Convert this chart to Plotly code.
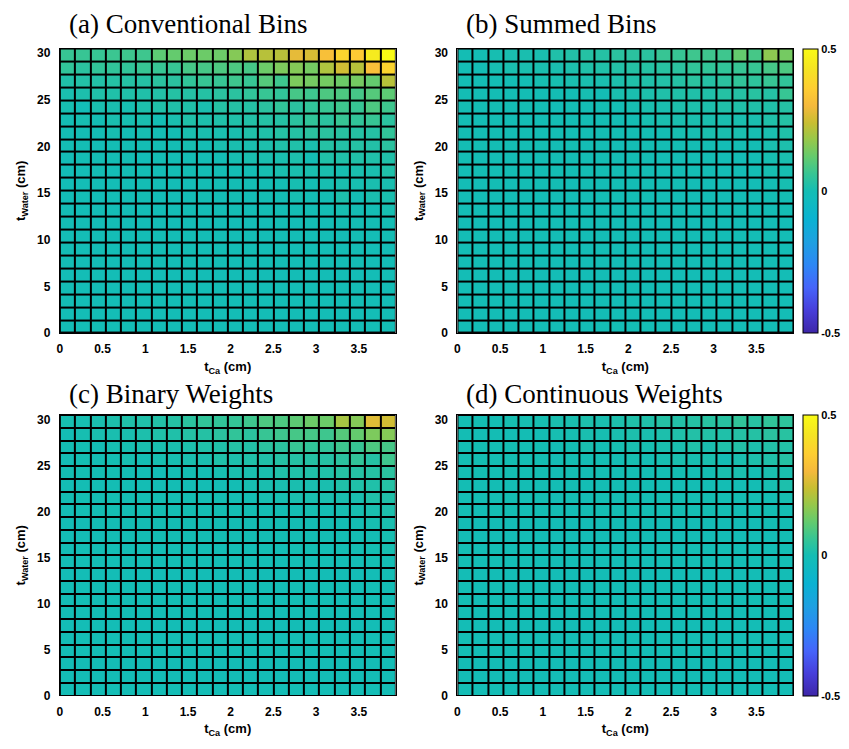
import plotly.graph_objects as go

# ---------------- data ----------------
# bin edges
t_ca_edges = [0.0, 0.1786, 0.3573, 0.5359, 0.7145, 0.8932, 1.0718, 1.2505, 1.4291, 1.6077,
              1.7864, 1.965, 2.1436, 2.3223, 2.5009, 2.6795, 2.8582, 3.0368, 3.2155, 3.3941,
              3.5727, 3.7514, 3.93]
t_water_edges = [0.0, 1.386, 2.773, 4.159, 5.545, 6.932, 8.318, 9.705, 11.091, 12.477,
                 13.864, 15.25, 16.636, 18.023, 19.409, 20.795, 22.182, 23.568, 24.955,
                 26.341, 27.727, 29.114, 30.5]

x_ticks = [0, 0.5, 1, 1.5, 2, 2.5, 3, 3.5]
x_tick_labels = ["0", "0.5", "1", "1.5", "2", "2.5", "3", "3.5"]
y_ticks = [0, 5, 10, 15, 20, 25, 30]
y_tick_labels = ["0", "5", "10", "15", "20", "25", "30"]
cbar_ticks = [-0.5, 0, 0.5]
cbar_labels = ["-0.5", "0", "0.5"]

titles = ["(a) Conventional Bins", "(b) Summed Bins", "(c) Binary Weights", "(d) Continuous Weights"]

# rows listed from top (t_water highest) to bottom
conventional_bins = [
    [0.06, 0.06, 0.06, 0.065, 0.07, 0.07, 0.11, 0.12, 0.13, 0.13, 0.13, 0.16, 0.21, 0.22, 0.22, 0.28, 0.26, 0.32, 0.38, 0.35, 0.45, 0.50],
    [0.05, 0.04, 0.05, 0.05, 0.05, 0.06, 0.06, 0.06, 0.08, 0.08, 0.09, 0.09, 0.08, 0.13, 0.15, 0.16, 0.14, 0.21, 0.25, 0.22, 0.32, 0.38],
    [0.02, 0.025, 0.025, 0.03, 0.03, 0.03, 0.04, 0.04, 0.05, 0.06, 0.06, 0.07, 0.06, 0.10, 0.07, 0.15, 0.14, 0.14, 0.13, 0.14, 0.12, 0.22],
    [0.01, 0.015, 0.02, 0.02, 0.02, 0.02, 0.025, 0.03, 0.03, 0.03, 0.04, 0.04, 0.05, 0.06, 0.05, 0.08, 0.07, 0.09, 0.09, 0.08, 0.10, 0.11],
    [0.005, -0.01, 0.01, 0.01, 0.005, 0.015, 0.02, 0.02, 0.02, 0.01, 0.03, 0.03, 0.03, 0.04, 0.05, 0.04, 0.05, 0.06, 0.07, 0.06, 0.09, 0.07],
    [0.0, 0.005, 0.0, 0.01, 0.005, 0.01, 0.0, 0.01, 0.02, 0.015, 0.02, 0.02, 0.025, 0.03, 0.03, 0.04, 0.05, 0.04, 0.06, 0.05, 0.06, 0.04],
    [0.0, 0.0, 0.0, 0.005, 0.0, 0.005, 0.0, 0.0, 0.01, 0.01, 0.01, 0.01, 0.02, 0.02, 0.03, 0.03, 0.04, 0.04, 0.035, 0.03, 0.03, 0.05],
    [0.0, 0.0, -0.005, 0.0, 0.0, 0.0, 0.0, 0.0, 0.005, 0.0, 0.01, 0.01, 0.01, 0.015, 0.02, 0.02, 0.01, 0.03, 0.025, 0.03, 0.025, 0.04],
    [-0.005, 0.0, 0.0, 0.0, 0.0, -0.01, 0.0, 0.0, 0.0, 0.0, 0.0, 0.005, 0.01, 0.01, 0.01, 0.015, 0.0, 0.02, 0.02, 0.02, 0.02, 0.02],
    [-0.01, -0.005, 0.0, -0.005, 0.0, 0.0, -0.005, 0.0, 0.0, 0.0, 0.0, 0.0, 0.0, 0.005, 0.01, 0.01, 0.01, 0.01, 0.005, 0.01, 0.01, 0.02],
    [-0.01, -0.005, -0.005, -0.005, -0.005, 0.0, -0.005, -0.005, -0.005, 0.0, 0.0, 0.0, 0.0, 0.0, 0.0, 0.005, 0.0, 0.005, 0.01, 0.005, 0.01, 0.01],
    [-0.01, -0.005, -0.01, -0.005, -0.005, 0.0, -0.01, -0.005, -0.005, 0.0, -0.005, 0.0, -0.005, 0.0, 0.0, 0.005, 0.0, 0.0, 0.015, 0.0, 0.01, 0.01],
    [-0.005, -0.01, -0.005, -0.005, -0.005, -0.005, -0.01, -0.005, -0.005, -0.005, -0.005, 0.0, -0.005, 0.0, 0.0, 0.0, 0.0, 0.0, 0.005, 0.0, 0.0, 0.005],
    [-0.005, -0.005, -0.005, -0.005, -0.005, -0.005, -0.005, -0.005, -0.005, -0.005, -0.005, -0.005, -0.005, -0.005, 0.0, -0.005, 0.0, -0.005, 0.0, 0.0, 0.0, 0.0],
    [-0.005, -0.005, -0.005, -0.005, -0.005, -0.005, -0.005, -0.005, -0.005, -0.005, -0.005, -0.005, -0.005, -0.005, -0.005, -0.005, -0.005, -0.005, -0.005, 0.0, -0.005, 0.0],
    [-0.005, -0.005, -0.005, -0.005, -0.005, -0.005, -0.005, -0.005, -0.005, -0.005, -0.005, -0.005, -0.005, -0.005, -0.005, -0.005, -0.005, -0.005, -0.005, -0.005, -0.005, -0.005],
    [-0.005, -0.005, -0.005, -0.005, -0.005, -0.005, -0.005, -0.005, -0.005, -0.005, -0.005, -0.005, -0.005, -0.005, -0.005, -0.005, -0.005, -0.005, -0.005, -0.005, -0.005, -0.005],
    [-0.005, -0.005, -0.005, -0.005, -0.005, -0.005, -0.005, -0.005, -0.005, -0.005, -0.005, -0.005, -0.005, -0.005, -0.005, -0.005, -0.005, -0.005, -0.005, -0.005, -0.005, -0.005],
    [-0.005, -0.005, -0.005, -0.005, -0.005, -0.005, -0.005, -0.005, -0.005, -0.005, -0.005, -0.005, -0.005, -0.005, -0.005, -0.005, -0.005, -0.005, -0.005, -0.005, -0.005, -0.005],
    [-0.005, -0.005, -0.005, -0.005, -0.005, -0.005, -0.005, -0.005, -0.005, -0.005, -0.005, -0.005, -0.005, -0.005, -0.005, -0.005, -0.005, -0.005, -0.005, -0.005, -0.005, -0.005],
    [-0.005, -0.005, -0.005, -0.005, -0.005, -0.005, -0.005, -0.005, -0.005, -0.005, -0.005, -0.005, -0.005, -0.005, -0.005, -0.005, -0.005, -0.005, -0.005, -0.005, -0.005, -0.005],
    [-0.005, -0.005, -0.005, -0.005, -0.005, -0.005, -0.005, -0.005, -0.005, -0.005, -0.005, -0.005, -0.005, -0.005, -0.005, -0.005, -0.005, -0.005, -0.005, -0.005, -0.005, -0.005],
]

summed_bins = [
    [0.0, 0.0, 0.005, 0.01, 0.01, 0.01, 0.02, 0.025, 0.03, 0.03, 0.04, 0.04, 0.04, 0.06, 0.06, 0.07, 0.07, 0.07, 0.12, 0.08, 0.17, 0.14],
    [0.0, 0.0, 0.005, 0.01, 0.01, 0.01, 0.01, 0.015, 0.02, 0.02, 0.025, 0.03, 0.03, 0.035, 0.04, 0.05, 0.05, 0.05, 0.06, 0.06, 0.08, 0.09],
    [0.0, 0.0, 0.0, 0.0, 0.0, 0.005, 0.005, 0.01, 0.01, 0.01, 0.015, 0.02, 0.02, 0.025, 0.03, 0.04, 0.03, 0.04, 0.05, 0.045, 0.06, 0.05],
    [0.0, 0.0, 0.0, 0.0, 0.0, 0.0, 0.0, 0.0, 0.005, 0.0, 0.01, 0.01, 0.015, 0.02, 0.02, 0.02, 0.02, 0.03, 0.03, 0.035, 0.03, 0.06],
    [0.0, 0.0, 0.0, 0.0, 0.0, 0.0, -0.01, 0.0, 0.0, 0.0, 0.0, 0.005, 0.01, 0.01, 0.015, 0.015, 0.015, 0.02, 0.02, 0.02, 0.02, 0.03],
    [0.0, 0.0, 0.0, 0.0, 0.0, 0.0, 0.0, 0.0, 0.0, 0.0, 0.0, 0.0, 0.005, 0.01, 0.01, 0.01, 0.01, 0.01, 0.01, 0.01, 0.02, 0.03],
    [0.0, 0.0, 0.0, 0.0, 0.0, 0.0, 0.0, 0.0, 0.0, 0.0, 0.0, 0.0, 0.0, 0.0, 0.005, 0.005, 0.01, 0.01, 0.01, 0.005, 0.01, 0.02],
    [0.0, 0.0, 0.0, 0.0, 0.0, 0.0, 0.0, 0.0, 0.0, 0.0, -0.005, 0.0, 0.0, 0.0, 0.0, 0.0, 0.0, -0.005, 0.0, 0.0, 0.01, 0.015],
    [0.0, 0.0, 0.0, 0.0, 0.0, 0.0, 0.0, 0.0, 0.0, 0.0, 0.0, 0.0, 0.0, 0.0, 0.0, 0.0, 0.0, -0.005, -0.005, 0.0, 0.005, 0.01],
    [-0.005, 0.0, 0.0, 0.0, 0.0, 0.0, 0.0, 0.0, 0.0, 0.0, 0.0, 0.0, 0.0, 0.0, 0.0, 0.0, -0.005, -0.005, -0.005, 0.0, 0.005, 0.005],
    [-0.005, -0.005, 0.0, -0.005, 0.0, 0.0, 0.0, -0.005, 0.0, -0.005, 0.0, 0.0, 0.0, 0.0, 0.0, -0.005, -0.005, -0.005, -0.005, -0.005, 0.0, 0.005],
    [-0.005, -0.005, -0.005, -0.005, -0.005, -0.005, -0.005, -0.005, -0.005, -0.005, -0.005, -0.005, -0.005, -0.005, -0.005, -0.005, -0.005, -0.005, -0.005, -0.005, 0.0, 0.0],
    [-0.005, -0.005, -0.005, -0.005, -0.005, -0.005, -0.005, -0.005, -0.005, -0.005, -0.005, -0.005, -0.005, -0.005, -0.005, -0.005, -0.005, -0.005, -0.005, -0.005, -0.005, 0.0],
    [-0.005, -0.005, -0.005, -0.005, -0.005, -0.005, -0.005, -0.005, -0.005, -0.005, -0.005, -0.005, -0.005, -0.005, -0.005, -0.005, -0.005, -0.005, -0.005, -0.005, -0.005, -0.005],
    [-0.005, -0.005, -0.005, -0.005, -0.005, -0.005, -0.005, -0.005, -0.005, -0.005, -0.005, -0.005, -0.005, -0.005, -0.005, -0.005, -0.005, -0.005, -0.005, -0.005, -0.005, -0.005],
    [-0.005, -0.005, -0.005, -0.005, -0.005, -0.005, -0.005, -0.005, -0.005, -0.005, -0.005, -0.005, -0.005, -0.005, -0.005, -0.005, -0.005, -0.005, -0.005, -0.005, -0.005, -0.005],
    [-0.005, -0.005, -0.005, -0.005, -0.005, -0.005, -0.005, -0.005, -0.005, -0.005, -0.005, -0.005, -0.005, -0.005, -0.005, -0.005, -0.005, -0.005, -0.005, -0.005, -0.005, -0.005],
    [-0.005, -0.005, -0.005, -0.005, -0.005, -0.005, -0.005, -0.005, -0.005, -0.005, -0.005, -0.005, -0.005, -0.005, -0.005, -0.005, -0.005, -0.005, -0.005, -0.005, -0.005, -0.005],
    [-0.005, -0.005, -0.005, -0.005, -0.005, -0.005, -0.005, -0.005, -0.005, -0.005, -0.005, -0.005, -0.005, -0.005, -0.005, -0.005, -0.005, -0.005, -0.005, -0.005, -0.005, -0.005],
    [-0.005, -0.005, -0.005, -0.005, -0.005, -0.005, -0.005, -0.005, -0.005, -0.005, -0.005, -0.005, -0.005, -0.005, -0.005, -0.005, -0.005, -0.005, -0.005, -0.005, -0.005, -0.005],
    [-0.005, -0.005, -0.005, -0.005, -0.005, -0.005, -0.005, -0.005, -0.005, -0.005, -0.005, -0.005, -0.005, -0.005, -0.005, -0.005, -0.005, -0.005, -0.005, -0.005, -0.005, -0.005],
    [-0.005, -0.005, -0.005, -0.005, -0.005, -0.005, -0.005, -0.005, -0.005, -0.005, -0.005, -0.005, -0.005, -0.005, -0.005, -0.005, -0.005, -0.005, -0.005, -0.005, -0.005, -0.005],
]

binary_weights = [
    [0.005, 0.005, 0.01, 0.015, 0.02, 0.02, 0.025, 0.03, 0.04, 0.05, 0.05, 0.055, 0.07, 0.09, 0.09, 0.11, 0.13, 0.13, 0.20, 0.16, 0.27, 0.25],
    [0.0, 0.005, 0.01, 0.01, 0.01, 0.015, 0.02, 0.02, 0.03, 0.03, 0.04, 0.05, 0.04, 0.06, 0.07, 0.08, 0.08, 0.07, 0.10, 0.12, 0.15, 0.16],
    [0.0, 0.0, 0.0, 0.005, 0.005, 0.01, 0.01, 0.01, 0.015, 0.02, 0.02, 0.03, 0.025, 0.04, 0.04, 0.06, 0.05, 0.05, 0.07, 0.06, 0.09, 0.08],
    [-0.005, 0.0, 0.0, 0.0, 0.005, 0.0, 0.005, 0.005, 0.01, 0.01, 0.02, 0.015, 0.02, 0.02, 0.03, 0.03, 0.03, 0.03, 0.04, 0.05, 0.03, 0.07],
    [0.0, 0.0, 0.0, 0.0, 0.0, -0.005, -0.01, 0.0, 0.0, 0.0, 0.005, 0.01, 0.01, 0.01, 0.02, 0.02, 0.02, 0.02, 0.03, 0.03, 0.03, 0.04],
    [0.0, 0.0, 0.0, 0.0, 0.0, 0.0, 0.0, 0.0, 0.0, 0.0, 0.0, 0.0, 0.005, 0.01, 0.01, 0.01, 0.01, 0.01, 0.02, 0.02, 0.02, 0.03],
    [0.0, 0.0, 0.0, 0.0, 0.0, 0.0, 0.0, 0.0, 0.0, 0.0, 0.0, 0.0, 0.0, 0.005, 0.005, 0.01, 0.01, 0.01, 0.01, 0.01, 0.02, 0.02],
    [-0.005, 0.0, 0.0, 0.0, 0.0, 0.0, 0.0, 0.0, 0.0, 0.0, 0.0, 0.0, 0.0, 0.0, 0.0, 0.0, 0.005, 0.0, 0.005, 0.005, 0.01, 0.015],
    [-0.005, -0.005, 0.0, 0.0, 0.0, 0.0, 0.0, 0.0, 0.0, 0.0, 0.0, 0.0, 0.0, 0.0, 0.0, 0.0, 0.0, 0.0, 0.0, 0.0, 0.005, 0.01],
    [-0.005, -0.005, -0.005, 0.0, 0.0, 0.0, 0.0, 0.0, 0.0, 0.0, 0.0, 0.0, 0.0, 0.0, 0.0, 0.0, 0.0, 0.0, 0.0, 0.0, 0.0, 0.005],
    [-0.005, -0.005, -0.005, -0.005, -0.005, -0.005, -0.005, -0.005, -0.005, -0.005, -0.005, -0.005, -0.005, 0.0, -0.005, 0.0, 0.0, -0.005, 0.0, 0.0, 0.0, 0.005],
    [-0.005, -0.005, -0.005, -0.005, -0.005, -0.005, -0.005, -0.005, -0.005, -0.005, -0.005, -0.005, -0.005, -0.005, -0.005, -0.005, -0.005, -0.005, -0.005, -0.005, 0.0, 0.0],
    [-0.005, -0.005, -0.005, -0.005, -0.005, -0.005, -0.005, -0.005, -0.005, -0.005, -0.005, -0.005, -0.005, -0.005, -0.005, -0.005, -0.005, -0.005, -0.005, -0.005, -0.005, 0.0],
    [-0.005, -0.005, -0.005, -0.005, -0.005, -0.005, -0.005, -0.005, -0.005, -0.005, -0.005, -0.005, -0.005, -0.005, -0.005, -0.005, -0.005, -0.005, -0.005, -0.005, -0.005, -0.005],
    [-0.005, -0.005, -0.005, -0.005, -0.005, -0.005, -0.005, -0.005, -0.005, -0.005, -0.005, -0.005, -0.005, -0.005, -0.005, -0.005, -0.005, -0.005, -0.005, -0.005, -0.005, -0.005],
    [-0.005, -0.005, -0.005, -0.005, -0.005, -0.005, -0.005, -0.005, -0.005, -0.005, -0.005, -0.005, -0.005, -0.005, -0.005, -0.005, -0.005, -0.005, -0.005, -0.005, -0.005, -0.005],
    [-0.005, -0.005, -0.005, -0.005, -0.005, -0.005, -0.005, -0.005, -0.005, -0.005, -0.005, -0.005, -0.005, -0.005, -0.005, -0.005, -0.005, -0.005, -0.005, -0.005, -0.005, -0.005],
    [-0.005, -0.005, -0.005, -0.005, -0.005, -0.005, -0.005, -0.005, -0.005, -0.005, -0.005, -0.005, -0.005, -0.005, -0.005, -0.005, -0.005, -0.005, -0.005, -0.005, -0.005, -0.005],
    [-0.005, -0.005, -0.005, -0.005, -0.005, -0.005, -0.005, -0.005, -0.005, -0.005, -0.005, -0.005, -0.005, -0.005, -0.005, -0.005, -0.005, -0.005, -0.005, -0.005, -0.005, -0.005],
    [-0.005, -0.005, -0.005, -0.005, -0.005, -0.005, -0.005, -0.005, -0.005, -0.005, -0.005, -0.005, -0.005, -0.005, -0.005, -0.005, -0.005, -0.005, -0.005, -0.005, -0.005, -0.005],
    [-0.005, -0.005, -0.005, -0.005, -0.005, -0.005, -0.005, -0.005, -0.005, -0.005, -0.005, -0.005, -0.005, -0.005, -0.005, -0.005, -0.005, -0.005, -0.005, -0.005, -0.005, -0.005],
    [-0.005, -0.005, -0.005, -0.005, -0.005, -0.005, -0.005, -0.005, -0.005, -0.005, -0.005, -0.005, -0.005, -0.005, -0.005, -0.005, -0.005, -0.005, -0.005, -0.005, -0.005, -0.005],
]

continuous_weights = [
    [0.0, 0.0, 0.0, 0.005, 0.005, 0.005, 0.01, 0.01, 0.015, 0.01, 0.015, 0.02, 0.02, 0.03, 0.025, 0.03, 0.035, 0.035, 0.05, 0.035, 0.05, 0.045],
    [0.0, 0.0, 0.0, 0.0, 0.0, 0.0, 0.005, 0.005, 0.01, 0.005, 0.01, 0.015, 0.01, 0.015, 0.02, 0.025, 0.025, 0.02, 0.03, 0.03, 0.04, 0.035],
    [0.0, 0.0, 0.0, 0.0, 0.0, 0.0, 0.0, 0.0, 0.01, 0.0, 0.005, 0.01, 0.005, 0.01, 0.01, 0.02, 0.01, 0.02, 0.025, 0.015, 0.025, 0.025],
    [0.0, 0.0, 0.0, 0.0, 0.0, 0.0, 0.0, 0.0, 0.0, 0.0, 0.0, 0.005, 0.0, 0.005, 0.01, 0.005, 0.01, 0.0, 0.01, 0.015, 0.02, 0.03],
    [0.0, 0.0, 0.0, 0.0, 0.0, 0.0, 0.0, 0.0, 0.0, 0.0, 0.0, 0.0, 0.0, 0.0, 0.0, 0.0, 0.0, 0.01, 0.01, 0.0, 0.01, 0.01],
    [0.0, 0.0, 0.0, 0.0, 0.0, 0.0, 0.0, 0.0, 0.0, 0.0, 0.0, 0.0, 0.0, 0.0, 0.0, 0.0, 0.0, 0.0, 0.0, 0.0, 0.005, 0.015],
    [-0.005, 0.0, 0.0, 0.0, 0.0, 0.0, 0.0, 0.0, 0.0, 0.0, 0.0, 0.0, 0.0, 0.0, 0.0, 0.0, 0.0, 0.0, 0.0, 0.0, 0.0, 0.005],
    [-0.005, -0.005, 0.0, 0.0, -0.005, 0.0, 0.0, -0.005, 0.0, 0.0, 0.0, 0.0, 0.0, 0.0, 0.0, 0.0, 0.0, 0.0, -0.005, 0.0, 0.0, 0.0],
    [-0.005, -0.005, -0.005, -0.005, -0.005, -0.005, -0.005, -0.005, -0.005, -0.005, -0.005, -0.005, -0.005, -0.005, -0.005, -0.005, -0.005, -0.005, -0.005, -0.005, 0.0, 0.0],
    [-0.005, -0.005, -0.005, -0.005, -0.005, -0.005, -0.005, -0.005, -0.005, -0.005, -0.005, -0.005, -0.005, -0.005, -0.005, -0.005, -0.005, -0.005, -0.005, -0.005, -0.005, 0.0],
    [-0.005, -0.005, -0.005, -0.005, -0.005, -0.005, -0.005, -0.005, -0.005, -0.005, -0.005, -0.005, -0.005, -0.005, -0.005, -0.005, -0.005, -0.005, -0.005, -0.005, -0.005, -0.005],
    [-0.005, -0.005, -0.005, -0.005, -0.005, -0.005, -0.005, -0.005, -0.005, -0.005, -0.005, -0.005, -0.005, -0.005, -0.005, -0.005, -0.005, -0.005, -0.005, -0.005, -0.005, -0.005],
    [-0.005, -0.005, -0.005, -0.005, -0.005, -0.005, -0.005, -0.005, -0.005, -0.005, -0.005, -0.005, -0.005, -0.005, -0.005, -0.005, -0.005, -0.005, -0.005, -0.005, -0.005, -0.005],
    [-0.005, -0.005, -0.005, -0.005, -0.005, -0.005, -0.005, -0.005, -0.005, -0.005, -0.005, -0.005, -0.005, -0.005, -0.005, -0.005, -0.005, -0.005, -0.005, -0.005, -0.005, -0.005],
    [-0.005, -0.005, -0.005, -0.005, -0.005, -0.005, -0.005, -0.005, -0.005, -0.005, -0.005, -0.005, -0.005, -0.005, -0.005, -0.005, -0.005, -0.005, -0.005, -0.005, -0.005, -0.005],
    [-0.005, -0.005, -0.005, -0.005, -0.005, -0.005, -0.005, -0.005, -0.005, -0.005, -0.005, -0.005, -0.005, -0.005, -0.005, -0.005, -0.005, -0.005, -0.005, -0.005, -0.005, -0.005],
    [-0.005, -0.005, -0.005, -0.005, -0.005, -0.005, -0.005, -0.005, -0.005, -0.005, -0.005, -0.005, -0.005, -0.005, -0.005, -0.005, -0.005, -0.005, -0.005, -0.005, -0.005, -0.005],
    [-0.005, -0.005, -0.005, -0.005, -0.005, -0.005, -0.005, -0.005, -0.005, -0.005, -0.005, -0.005, -0.005, -0.005, -0.005, -0.005, -0.005, -0.005, -0.005, -0.005, -0.005, -0.005],
    [-0.005, -0.005, -0.005, -0.005, -0.005, -0.005, -0.005, -0.005, -0.005, -0.005, -0.005, -0.005, -0.005, -0.005, -0.005, -0.005, -0.005, -0.005, -0.005, -0.005, -0.005, -0.005],
    [-0.005, -0.005, -0.005, -0.005, -0.005, -0.005, -0.005, -0.005, -0.005, -0.005, -0.005, -0.005, -0.005, -0.005, -0.005, -0.005, -0.005, -0.005, -0.005, -0.005, -0.005, -0.005],
    [-0.005, -0.005, -0.005, -0.005, -0.005, -0.005, -0.005, -0.005, -0.005, -0.005, -0.005, -0.005, -0.005, -0.005, -0.005, -0.005, -0.005, -0.005, -0.005, -0.005, -0.005, -0.005],
    [-0.005, -0.005, -0.005, -0.005, -0.005, -0.005, -0.005, -0.005, -0.005, -0.005, -0.005, -0.005, -0.005, -0.005, -0.005, -0.005, -0.005, -0.005, -0.005, -0.005, -0.005, -0.005],
]

# parula-like colour scale
parula = [
    [0.00, "rgb(62,38,168)"],
    [0.08, "rgb(71,62,218)"],
    [0.16, "rgb(70,100,250)"],
    [0.24, "rgb(45,135,245)"],
    [0.32, "rgb(30,160,225)"],
    [0.40, "rgb(10,178,210)"],
    [0.48, "rgb(18,188,186)"],
    [0.50, "rgb(20,189,180)"],
    [0.56, "rgb(55,197,148)"],
    [0.62, "rgb(100,203,110)"],
    [0.68, "rgb(150,200,75)"],
    [0.74, "rgb(200,190,50)"],
    [0.80, "rgb(245,185,60)"],
    [0.86, "rgb(254,205,50)"],
    [0.93, "rgb(245,228,35)"],
    [1.00, "rgb(249,251,21)"],
]

# ---------------- figure ----------------
# the page body adds an 8 px margin, so the figure is 16 px smaller than the window
OFF = 8
W, H = 849 - 2 * OFF, 749 - 2 * OFF


def px_x(p):
    return (p - OFF) / W


def px_y(p):
    return 1 - (p - OFF) / H


panels = [conventional_bins, summed_bins, binary_weights, continuous_weights]
x_domains = [[px_x(57), px_x(394)], [px_x(456), px_x(793)]]
y_domains = [[px_y(335), px_y(47)], [px_y(702), px_y(418)]]
title_x = [px_x(64), px_x(463)]
title_y = [px_y(22), px_y(397)]

fig = go.Figure()
font_main = "Liberation Sans, Arial, sans-serif"

for i, data in enumerate(panels):
    col = i % 2
    row = i // 2
    ax = "" if i == 0 else str(i + 1)
    show_cb = col == 1
    cb = None
    if show_cb:
        yd = y_domains[row]
        cb = dict(
            x=px_x(803), xanchor="left", y=(yd[0] + yd[1]) / 2, yanchor="middle",
            len=(yd[1] - yd[0]), lenmode="fraction", thickness=15, thicknessmode="pixels",
            outlinecolor="black", outlinewidth=1,
            tickvals=cbar_ticks, ticktext=cbar_labels, ticks="",
            tickfont=dict(family=font_main, size=11, color="black", weight="bold"),
            xpad=0, ypad=0,
        )
    fig.add_trace(go.Heatmap(
        z=data[::-1], x=t_ca_edges, y=t_water_edges,
        colorscale=parula, zmin=-0.5, zmax=0.5,
        xgap=2, ygap=2,
        showscale=show_cb, colorbar=cb,
        xaxis="x" + ax, yaxis="y" + ax,
        hoverinfo="skip",
    ))
    axis_common = dict(showline=True, linecolor="black", linewidth=1, mirror=True,
                       showgrid=False, zeroline=False, ticks="",
                       tickfont=dict(family=font_main, size=12, color="black", weight="bold"))
    fig.layout["xaxis" + ax] = dict(
        domain=x_domains[col], anchor="y" + ax, range=[0, 3.93],
        tickvals=x_ticks, ticktext=x_tick_labels, ticklabelstandoff=5,
        title=dict(text="<b>t<sub>Ca</sub> (cm)</b>", standoff=6,
                   font=dict(family=font_main, size=13, color="black")),
        **axis_common)
    fig.layout["yaxis" + ax] = dict(
        domain=y_domains[row], anchor="x" + ax, range=[0, 30.5],
        tickvals=y_ticks, ticktext=y_tick_labels, ticklabelstandoff=6,
        title=dict(text="<b>t<sub>Water</sub> (cm)</b>", standoff=8,
                   font=dict(family=font_main, size=13, color="black")),
        **axis_common)
    fig.add_annotation(
        text=titles[i], xref="paper", yref="paper",
        x=title_x[col], xanchor="left",
        y=title_y[row], yanchor="middle",
        showarrow=False,
        font=dict(family="Liberation Serif, Times New Roman, serif", size=27, color="black"),
    )

fig.update_layout(
    width=W, height=H,
    margin=dict(l=0, r=0, t=0, b=0),
    paper_bgcolor="white", plot_bgcolor="black",
    showlegend=False,
)

fig.write_html("out.html")
